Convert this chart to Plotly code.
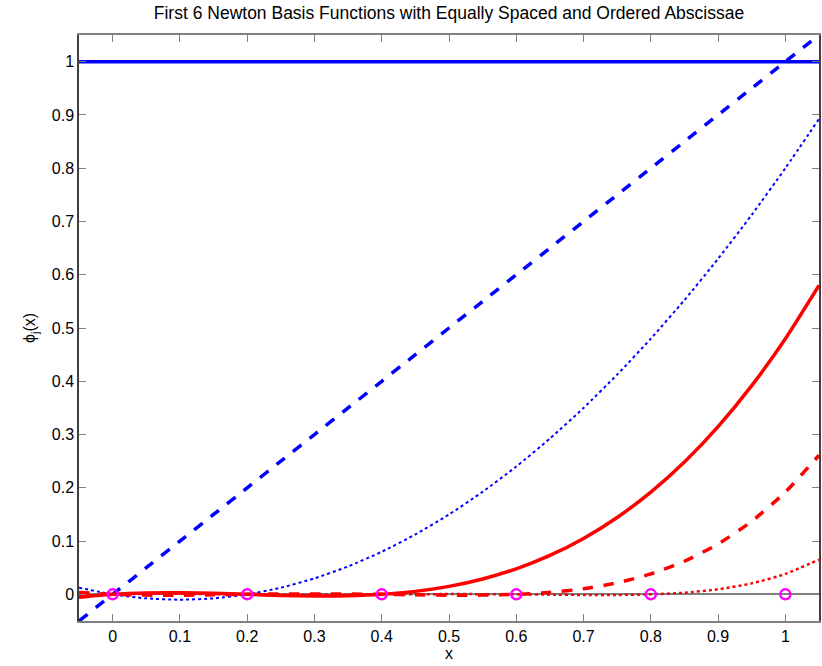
import plotly.graph_objects as go

# Sample abscissae and the values of the first six Newton basis functions
x = [-0.05, 0.0, 0.05, 0.1, 0.15, 0.2, 0.25, 0.3, 0.35, 0.4, 0.45, 0.5,
     0.55, 0.6, 0.65, 0.7, 0.75, 0.8, 0.85, 0.9, 0.95, 1.0, 1.05]
phi0 = [1.0] * 23
phi1 = [-0.05, 0.0, 0.05, 0.1, 0.15, 0.2, 0.25, 0.3, 0.35, 0.4, 0.45, 0.5,
        0.55, 0.6, 0.65, 0.7, 0.75, 0.8, 0.85, 0.9, 0.95, 1.0, 1.05]
phi2 = [0.0125, 0.0, -0.0075, -0.01, -0.0075, 0.0, 0.0125, 0.03, 0.0525, 0.08,
        0.1125, 0.15, 0.1925, 0.24, 0.2925, 0.35, 0.4125, 0.48, 0.5525, 0.63,
        0.7125, 0.8, 0.8925]
phi3 = [-0.0056, 0.0, 0.0026, 0.003, 0.0019, 0.0, -0.0019, -0.003, -0.0026, 0.0,
        0.0056, 0.015, 0.0289, 0.048, 0.0731, 0.105, 0.1444, 0.192, 0.2486,
        0.315, 0.3919, 0.48, 0.5801]
phi4 = [0.0037, 0.0, -0.0014, -0.0015, -0.0008, 0.0, 0.0007, 0.0009, 0.0007, 0.0,
        -0.0008, -0.0015, -0.0014, 0.0, 0.0037, 0.0105, 0.0217, 0.0384, 0.0622,
        0.0945, 0.1372, 0.192, 0.2611]
phi5 = [-0.0031, 0.0, 0.0011, 0.0011, 0.0005, 0.0, -0.0004, -0.0005, -0.0003, 0.0,
        0.0003, 0.0005, 0.0004, 0.0, -0.0005, -0.0011, -0.0011, 0.0, 0.0031,
        0.0095, 0.0206, 0.0384, 0.0653]
nodes_x = [0.0, 0.2, 0.4, 0.6, 0.8, 1.0]
nodes_y = [0, 0, 0, 0, 0, 0]

x_ticks = [0, 0.1, 0.2, 0.3, 0.4, 0.5, 0.6, 0.7, 0.8, 0.9, 1]
y_ticks = [0, 0.1, 0.2, 0.3, 0.4, 0.5, 0.6, 0.7, 0.8, 0.9, 1]

BLUE = "#0000ff"
RED = "#ff0000"

fig = go.Figure()
series = [
    (phi0, BLUE, "solid", 3.5),
    (phi1, BLUE, "dash", 3.5),
    (phi2, BLUE, "dot", 2),
    (phi3, RED, "solid", 3.5),
    (phi4, RED, "dash", 3.5),
    (phi5, RED, "dot", 2.5),
]
for ys, col, dash, w in series:
    fig.add_trace(go.Scatter(
        x=x, y=ys, mode="lines",
        line=dict(color=col, dash=dash, width=w, shape="spline", smoothing=0.6),
        showlegend=False, hoverinfo="skip",
    ))

fig.add_trace(go.Scatter(
    x=nodes_x, y=nodes_y, mode="markers",
    marker=dict(symbol="circle-open", size=10, color="#ff00ff",
                line=dict(width=2.5, color="#ff00ff")),
    showlegend=False, hoverinfo="skip",
))

fig.update_layout(
    width=822, height=666,
    margin=dict(l=79, r=1, t=35, b=45),
    paper_bgcolor="white", plot_bgcolor="white",
    font=dict(family="Liberation Sans, Arial, sans-serif", size=16, color="black"),
    title=dict(text="First 6 Newton Basis Functions with Equally Spaced and Ordered Abscissae",
               x=0.5, xref="paper", y=0.99, yanchor="top",
               font=dict(size=17.5)),
)
fig.update_xaxes(
    range=[-0.05, 1.05], tickvals=x_ticks, ticktext=[str(v) for v in x_ticks],
    tickfont=dict(size=16),
    showgrid=False, zeroline=False,
    showline=True, linecolor="#808080", linewidth=1.5, mirror="ticks",
    ticks="inside", ticklen=7, tickcolor="#808080", tickwidth=1.2,
    title=dict(text="x", standoff=4, font=dict(size=16)),
)
fig.update_yaxes(
    range=[-0.05, 1.05], tickvals=y_ticks, ticktext=[str(v) for v in y_ticks],
    tickfont=dict(size=16),
    showgrid=False, zeroline=True, zerolinecolor="#808080", zerolinewidth=1.5,
    showline=True, linecolor="#404040", linewidth=1.5, mirror="ticks",
    ticks="inside", ticklen=7, tickcolor="#808080", tickwidth=1.2,
    title=dict(text="ϕ<sub>j</sub>(x)", standoff=12, font=dict(size=16)),
)

fig.write_html("out.html")
